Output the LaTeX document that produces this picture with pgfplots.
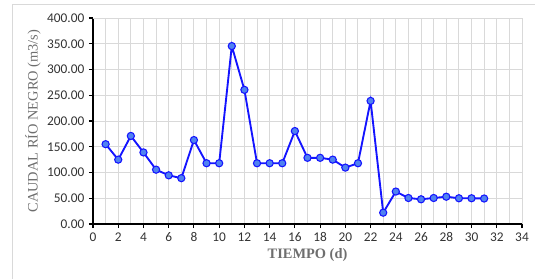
\documentclass[border=0pt]{standalone}
\usepackage{pgfplots}
\pgfplotsset{compat=1.18}
\usepackage{fontspec}
\setmainfont{Liberation Serif}
\newfontfamily\tickfont{Carlito}
\definecolor{gridc}{RGB}{217,217,217}
\definecolor{labc}{RGB}{110,110,110}
\definecolor{markc}{RGB}{80,130,240}
\definecolor{linec}{RGB}{20,20,255}
\begin{document}
\begin{tikzpicture}[x=1pt,y=1pt]
\useasboundingbox (-69.75,-41.25) rectangle (331.5,168);
\draw[gridc,line width=0.75pt] (-60,-41.25) -- (-60,164.25) -- (331.5,164.25);
\begin{axis}[
  at={(0,0)}, anchor=origin,
  scale only axis,
  width=321.75pt, height=154.5pt,
  xmin=0, xmax=34, ymin=0, ymax=400,
  xtick={0,2,...,34},
  minor xtick={1,3,...,33},
  ytick={0,50,...,400},
  grid=both,
  major grid style={gridc, line width=0.75pt},
  minor grid style={gridc, line width=0.75pt},
  axis x line*=bottom, axis y line*=left,
  axis line style={black, line width=0.8pt, -},
  tick style={black, line width=0.8pt},
  minor tick length=0pt,
  major tick length=3pt,
  tick align=outside,
  xticklabel style={font=\tickfont\fontsize{10}{11}\selectfont, text=black!80},
  yticklabel style={font=\tickfont\fontsize{10}{11}\selectfont, text=black!80},
  /pgf/number format/assume math mode=true,
  yticklabel={\pgfmathprintnumber[fixed,fixed zerofill,precision=2]{\tick}},
  xlabel={\textbf{TIEMPO (d)}},
  ylabel={CAUDAL RÍO NEGRO (m3/s)},
  xlabel style={font=\fontsize{10.8}{12}\selectfont, text=labc, yshift=2pt},
  ylabel style={font=\fontsize{10.8}{12}\selectfont, text=labc, yshift=-2pt},
  clip=false,
]
\draw[gridc,line width=0.75pt] (axis cs:34,0) -- (axis cs:34,400);
\draw[gridc,line width=0.75pt] (axis cs:0,400) -- (axis cs:34,400);
\addplot[linec, line width=1.4pt, mark=*, mark size=2.7pt,
  mark options={fill=markc, draw=linec, line width=0.8pt}] coordinates {
(1,155) (2,125) (3,171) (4,139) (5,105.5) (6,94.5) (7,89) (8,163)
(9,118) (10,118) (11,345.5) (12,260.5) (13,118) (14,118) (15,118)
(16,180.5) (17,128.5) (18,128.5) (19,125) (20,109.5) (21,118)
(22,239) (23,22) (24,63) (25,50.5) (26,48) (27,50.5) (28,53)
(29,50) (30,50) (31,49.5)
};
\end{axis}
\end{tikzpicture}
\end{document}
